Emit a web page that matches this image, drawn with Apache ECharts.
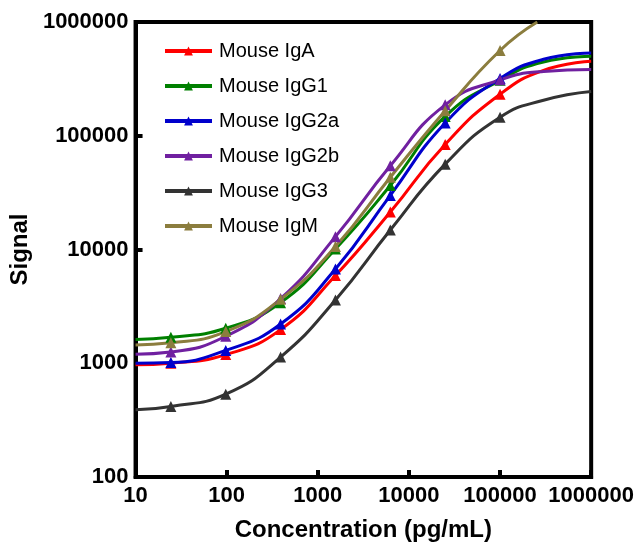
<!DOCTYPE html>
<html>
<head>
<meta charset="utf-8">
<script src="https://cdn.jsdelivr.net/npm/echarts@6/dist/echarts.min.js"></script>
<style>
html,body{margin:0;padding:0;background:#fff;}
#chart{width:637px;height:547px;}
</style>
</head>
<body>
<div id="chart"></div>
<script>
// Measured standard points (pg/mL)
const concentrations = [24.4, 97.7, 390.6, 1562.5, 6250, 25000, 100000];
// Signal at the measured points
const igA   = [1000, 1191, 1976, 5900, 21400, 83900, 231800];
const igG1  = [1690, 2030, 3410, 10100, 36500, 148000, 307000];
const igG2a = [1014, 1297, 2214, 6740, 29900, 129700, 319000];
const igG2b = [1254, 1727, 3700, 12970, 54500, 187000, 310000];
const igG3  = [417, 535, 1134, 3600, 14840, 56300, 145400];
const igM   = [1512, 1897, 3650, 10620, 43150, 166000, 562000];

// Fitted-curve ends (no markers)
const startConc = 10;
const igAStart = 970, igG1Start = 1620, igG2aStart = 1000, igG2bStart = 1200, igG3Start = 390, igMStart = 1450;
const tailConc = [300000, 1000000];
const igATail   = [375000, 451000];
const igG1Tail  = [445000, 499000];
const igG2aTail = [470000, 534000];
const igG2bTail = [368000, 383000];
const igG3Tail  = [205000, 244700];
const igMTailConc = [256000];
const igMTail   = [1000000];

const names  = ['Mouse IgA', 'Mouse IgG1', 'Mouse IgG2a', 'Mouse IgG2b', 'Mouse IgG3', 'Mouse IgM'];
const colors = ['#ff0000', '#008000', '#0000cc', '#7020a0', '#333333', '#8b7d3e'];

function build(start, vals, tailX, tailY) {
  const d = [{ value: [startConc, start], symbol: 'none' }];
  concentrations.forEach((c, i) => d.push({ value: [c, vals[i]] }));
  tailX.forEach((c, i) => d.push({ value: [c, tailY[i]], symbol: 'none' }));
  return d;
}

const seriesData = [
  build(igAStart, igA, tailConc, igATail),
  build(igG1Start, igG1, tailConc, igG1Tail),
  build(igG2aStart, igG2a, tailConc, igG2aTail),
  build(igG2bStart, igG2b, tailConc, igG2bTail),
  build(igG3Start, igG3, tailConc, igG3Tail),
  build(igMStart, igM, igMTailConc, igMTail)
];

const font = '"Liberation Sans", Arial, sans-serif';
const chart = echarts.init(document.getElementById('chart'));
const fmt = v => String(Math.round(v));

chart.setOption({
  animation: false,
  backgroundColor: '#fff',
  grid: { left: 135, right: 41, top: 22, bottom: 64, show: true, borderColor: '#000', borderWidth: 4 },
  legend: {
    orient: 'vertical', left: 163, top: 41, padding: 0,
    itemWidth: 47, itemHeight: 11, itemGap: 15,
    lineStyle: { width: 4 },
    textStyle: { fontFamily: font, fontSize: 20, color: '#000', padding: [0, 0, 0, 2] },
    data: names
  },
  xAxis: {
    type: 'log', logBase: 10, min: 10, max: 1000000,
    name: 'Concentration (pg/mL)', nameLocation: 'middle', nameGap: 41,
    nameTextStyle: { fontFamily: font, fontSize: 24, fontWeight: 'bold', color: '#000' },
    axisLine: { show: true, lineStyle: { color: '#000', width: 4 } },
    axisTick: { show: true, inside: true, length: 7, lineStyle: { color: '#000', width: 4 } },
    minorTick: { show: false },
    splitLine: { show: false },
    axisLabel: { fontFamily: font, fontSize: 22, fontWeight: 'bold', color: '#000', margin: 8, formatter: fmt }
  },
  yAxis: {
    type: 'log', logBase: 10, min: 100, max: 1000000,
    name: 'Signal', nameLocation: 'middle', nameGap: 100,
    nameTextStyle: { fontFamily: font, fontSize: 24, fontWeight: 'bold', color: '#000' },
    axisLine: { show: true, lineStyle: { color: '#000', width: 4 } },
    axisTick: { show: true, inside: true, length: 7, lineStyle: { color: '#000', width: 4 } },
    splitLine: { show: false },
    axisLabel: { fontFamily: font, fontSize: 22, fontWeight: 'bold', color: '#000', margin: 7, formatter: fmt }
  },
  series: names.map((n, i) => ({
    name: n,
    type: 'line',
    data: seriesData[i],
    smooth: 0.5,
    symbol: 'triangle',
    symbolSize: 11,
    showAllSymbol: true,
    color: colors[i],
    lineStyle: { width: 3, color: colors[i] },
    itemStyle: { color: colors[i] },
    clip: true
  }))
});
</script>
</body>
</html>
